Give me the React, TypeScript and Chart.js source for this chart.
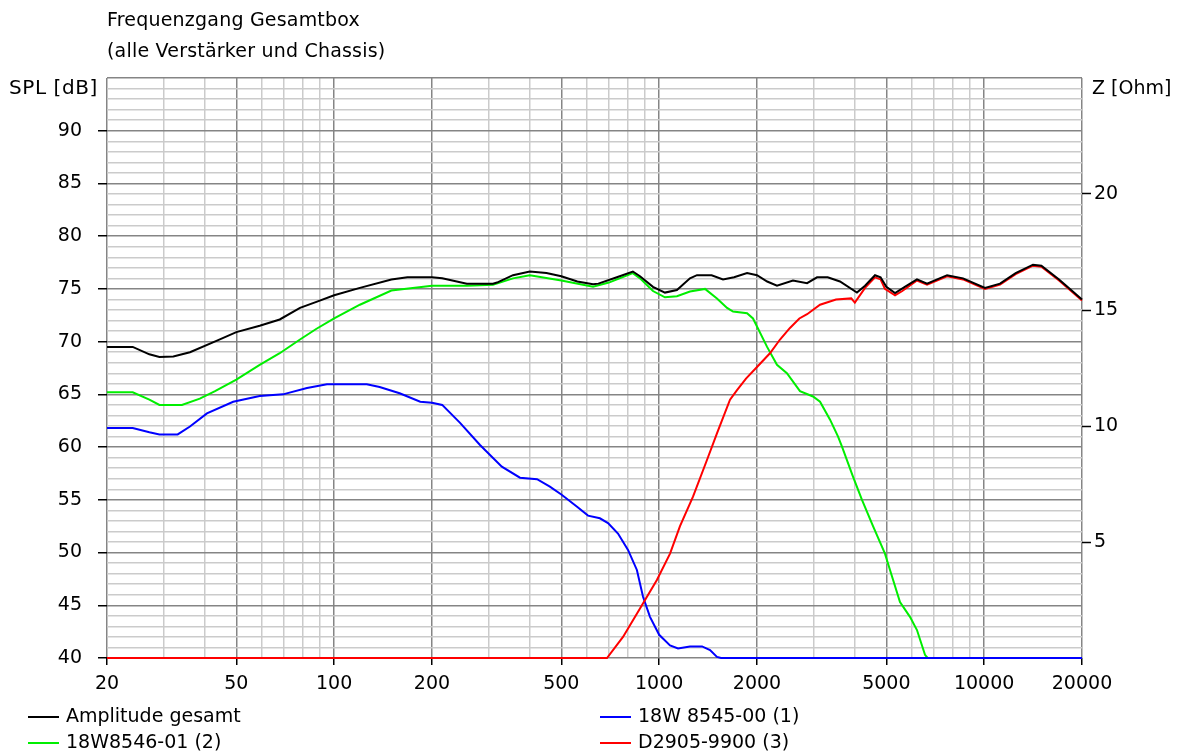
import React, { useEffect, useRef } from 'react';
import { Chart, registerables } from 'chart.js';

Chart.register(...registerables);

// ---------- data ----------
const titleLines = ['Frequenzgang Gesamtbox', '(alle Verstärker und Chassis)'];
const leftAxisTitle = 'SPL [dB]';
const rightAxisTitle = 'Z [Ohm]';

const xLabeledTicks = [20, 50, 100, 200, 500, 1000, 2000, 5000, 10000, 20000];
const xGridTicks = [
  20, 30, 40, 50, 60, 70, 80, 90,
  100, 200, 300, 400, 500, 600, 700, 800, 900,
  1000, 2000, 3000, 4000, 5000, 6000, 7000, 8000, 9000,
  10000, 20000,
];
const splMin = 40;
const splMax = 95;
const ohmTicks = [5, 10, 15, 20];
const ohmMin = 0;
const ohmMax = 25;

const seriesNames = ['Amplitude gesamt', '18W 8545-00 (1)', '18W8546-01 (2)', 'D2905-9900 (3)'];

const totalFreq = [20, 24, 27, 29, 32, 36, 43.6, 50, 59, 68, 78.5, 88.6, 100, 120, 150, 168, 200, 215, 256, 308, 317, 355, 400, 450, 500, 560, 626, 650, 741, 830, 873, 957, 1042, 1134, 1244, 1307, 1450, 1572, 1700, 1864, 2000, 2150, 2304, 2580, 2852, 3060, 3300, 3600, 4060, 4300, 4614, 4800, 5000, 5318, 5700, 6212, 6672, 7690, 8610, 10060, 11190, 12500, 14130, 15000, 17000, 20000];
const totalDb = [69.5, 69.5, 68.8, 68.55, 68.6, 69.0, 70.1, 70.9, 71.5, 72.1, 73.2, 73.8, 74.4, 75.1, 75.9, 76.1, 76.1, 76.0, 75.5, 75.5, 75.6, 76.3, 76.65, 76.5, 76.2, 75.7, 75.45, 75.5, 76.1, 76.65, 76.2, 75.2, 74.65, 74.9, 76.0, 76.3, 76.3, 75.9, 76.1, 76.5, 76.3, 75.7, 75.3, 75.8, 75.55, 76.1, 76.1, 75.7, 74.65, 75.3, 76.3, 76.1, 75.2, 74.6, 75.2, 75.9, 75.5, 76.3, 76.0, 75.1, 75.5, 76.5, 77.3, 77.2, 75.9, 74.0];

const wooferFreq = [20, 24, 27, 29, 33, 36, 40.6, 48.9, 59, 69.6, 82.5, 95, 126, 138, 159, 184, 200, 215, 244, 281, 328, 373, 421, 461, 500, 559, 604, 657, 696, 747, 802, 854, 892, 937, 1000, 1080, 1143, 1244, 1355, 1434, 1506, 1550, 20000];
const wooferDb = [61.8, 61.8, 61.4, 61.2, 61.2, 61.95, 63.2, 64.3, 64.85, 65.0, 65.6, 65.95, 65.95, 65.7, 65.1, 64.3, 64.2, 64.0, 62.3, 60.2, 58.15, 57.1, 56.95, 56.25, 55.5, 54.35, 53.5, 53.25, 52.8, 51.8, 50.25, 48.35, 45.8, 43.9, 42.2, 41.2, 40.9, 41.1, 41.1, 40.75, 40.1, 40.0, 40.0];

const midFreq = [20, 24, 27, 29, 34, 38.6, 43, 50, 59, 68, 78.5, 88, 100, 120, 150, 200, 256, 308, 355, 400, 500, 626, 700, 830, 873, 957, 1042, 1134, 1244, 1384, 1506, 1618, 1688, 1864, 1944, 2148, 2304, 2472, 2712, 2974, 3126, 3356, 3552, 3652, 3948, 4208, 4550, 4952, 5132, 5508, 5912, 6212, 6576, 6700];
const midDb = [65.2, 65.2, 64.5, 64.0, 64.0, 64.6, 65.3, 66.4, 67.8, 68.9, 70.2, 71.2, 72.2, 73.5, 74.85, 75.3, 75.3, 75.4, 76.0, 76.3, 75.8, 75.2, 75.6, 76.5, 76.0, 74.8, 74.2, 74.3, 74.75, 75.0, 74.1, 73.2, 72.85, 72.7, 72.2, 69.5, 67.8, 67.0, 65.3, 64.8, 64.3, 62.6, 61.0, 60.05, 57.2, 55.0, 52.5, 49.9, 48.35, 45.3, 43.9, 42.65, 40.3, 40.0];

const tweeterFreq = [20, 691, 774, 873, 984, 1080, 1159, 1271, 1404, 1506, 1652, 1736, 1850, 2000, 2192, 2354, 2526, 2700, 2852, 3126, 3500, 3900, 4000, 4300, 4614, 4800, 4950, 5318, 5600, 6212, 6672, 7690, 8610, 10060, 11190, 12500, 14130, 15000, 17000, 20000];
const tweeterDb = [40.0, 40.0, 42.0, 44.7, 47.4, 49.9, 52.5, 55.3, 58.8, 61.3, 64.5, 65.4, 66.5, 67.6, 68.9, 70.2, 71.3, 72.2, 72.6, 73.5, 74.0, 74.1, 73.7, 75.1, 76.1, 75.9, 75.0, 74.4, 74.8, 75.8, 75.4, 76.2, 75.9, 75.0, 75.4, 76.4, 77.2, 77.1, 75.8, 73.9];

// ---------- styles ----------
const COLORS = ['#000000', '#0000ff', '#00ee00', '#ff0000'];
const GRID_MAJOR = '#858585';
const GRID_MINOR = '#cbcbcb';
const FONT = '"DejaVu Sans", sans-serif';

const toPoints = (xs: number[], ys: number[]) => xs.map((x, i) => ({ x, y: ys[i] }));

const textPlugin = {
  id: 'texts',
  afterDraw(chart: any) {
    const { ctx, chartArea } = chart;
    ctx.save();
    ctx.fillStyle = '#000';
    ctx.textBaseline = 'middle';
    ctx.font = `19px ${FONT}`;
    ctx.textAlign = 'left';
    (ctx as any).letterSpacing = '0.2px';
    ctx.fillText(titleLines[0], chartArea.left, 21);
    ctx.fillText(titleLines[1], chartArea.left, 52);
    (ctx as any).letterSpacing = '0.6px';
    ctx.font = `20px ${FONT}`;
    ctx.textAlign = 'right';
    ctx.fillText(leftAxisTitle, chartArea.left - 9, 89);
    (ctx as any).letterSpacing = '0px';
    ctx.font = `19px ${FONT}`;
    ctx.textAlign = 'left';
    ctx.fillText(rightAxisTitle, chartArea.right + 10, 89);

    // legend
    const legendPos = [
      { x: 28, y: 717 },
      { x: 600, y: 717 },
      { x: 28, y: 743 },
      { x: 600, y: 743 },
    ];
    const legendOrder = [0, 1, 2, 3];
    ctx.font = `19px ${FONT}`;
    (ctx as any).letterSpacing = '0px';
    legendOrder.forEach((idx, k) => {
      const p = legendPos[k];
      ctx.strokeStyle = COLORS[idx];
      ctx.lineWidth = 2;
      ctx.beginPath();
      ctx.moveTo(p.x, p.y);
      ctx.lineTo(p.x + 31, p.y);
      ctx.stroke();
      ctx.fillText(seriesNames[idx], p.x + 38, p.y);
    });
    ctx.restore();
  },
};

export default function App() {
  const canvasRef = useRef<HTMLCanvasElement | null>(null);

  useEffect(() => {
    const canvas = canvasRef.current;
    if (!canvas) return;
    const datasets = [
      { label: seriesNames[0], data: toPoints(totalFreq, totalDb), borderColor: COLORS[0], order: 0 },
      { label: seriesNames[3], data: toPoints(tweeterFreq, tweeterDb), borderColor: COLORS[3], order: 1 },
      { label: seriesNames[1], data: toPoints(wooferFreq, wooferDb), borderColor: COLORS[1], order: 2 },
      { label: seriesNames[2], data: toPoints(midFreq, midDb), borderColor: COLORS[2], order: 3 },
    ].map((d) => ({
      ...d,
      borderWidth: 2,
      pointRadius: 0,
      tension: 0,
      fill: false,
      yAxisID: 'y',
      clip: { left: 1, right: 1, top: 1, bottom: 2 },
    }));

    const chart = new Chart(canvas, {
      type: 'line',
      data: { datasets },
      options: {
        responsive: false,
        animation: false,
        events: [],
        layout: { padding: { top: 78, left: 0, right: 0, bottom: 58 } },
        plugins: { legend: { display: false }, title: { display: false }, tooltip: { enabled: false } },
        scales: {
          x: {
            type: 'logarithmic',
            min: 20,
            max: 20000,
            afterBuildTicks: (scale: any) => {
              scale.ticks = xGridTicks.map((v) => ({ value: v }));
            },
            afterFit: (scale: any) => {
              scale.height = 40;
            },
            border: { display: false },
            grid: {
              color: (c: any) => (xLabeledTicks.includes(c.tick?.value) ? GRID_MAJOR : GRID_MINOR),
              lineWidth: 1.5,
              tickColor: (c: any) => (xLabeledTicks.includes(c.tick?.value) ? '#000' : 'rgba(0,0,0,0)'),
              tickLength: 7,
              tickWidth: 1.5,
            },
            ticks: {
              autoSkip: false,
              maxRotation: 0,
              padding: 8,
              color: '#000',
              font: { family: FONT, size: 19 },
              callback: (v: any) => (xLabeledTicks.includes(Number(v)) ? String(v) : ''),
            },
          },
          y: {
            type: 'linear',
            position: 'left',
            min: splMin,
            max: splMax,
            afterBuildTicks: (scale: any) => {
              const t = [];
              for (let v = splMin; v <= splMax; v++) t.push({ value: v });
              scale.ticks = t;
            },
            afterFit: (scale: any) => {
              scale.width = 107;
            },
            border: { display: false },
            grid: {
              color: (c: any) => (c.tick && c.tick.value % 5 === 0 ? GRID_MAJOR : GRID_MINOR),
              lineWidth: 1.5,
              tickColor: (c: any) => (c.tick && c.tick.value % 5 === 0 && c.tick.value < splMax ? '#000' : 'rgba(0,0,0,0)'),
              tickLength: 9,
              tickWidth: 1.5,
            },
            ticks: {
              autoSkip: false,
              padding: 16,
              color: '#000',
              font: { family: FONT, size: 19 },
              callback: (v: any) => (Number(v) % 5 === 0 && Number(v) < splMax ? String(v) : ''),
            },
          },
          y2: {
            type: 'linear',
            position: 'right',
            min: ohmMin,
            max: ohmMax,
            afterBuildTicks: (scale: any) => {
              scale.ticks = ohmTicks.map((v) => ({ value: v }));
            },
            afterFit: (scale: any) => {
              scale.width = 101;
            },
            border: { display: false },
            grid: {
              drawOnChartArea: false,
              tickColor: '#000',
              tickLength: 9,
              tickWidth: 1.5,
            },
            ticks: {
              autoSkip: false,
              padding: 3,
              color: '#000',
              font: { family: FONT, size: 19 },
              callback: (v: any) => String(v),
            },
          },
        },
      },
      plugins: [textPlugin],
    } as any);

    return () => chart.destroy();
  }, []);

  return (
    <div style={{ position: 'fixed', left: 0, top: 0, width: 1183, height: 756, background: '#fff' }}>
      <canvas ref={canvasRef} width={1183} height={756} style={{ width: 1183, height: 756, display: 'block' }} />
    </div>
  );
}
